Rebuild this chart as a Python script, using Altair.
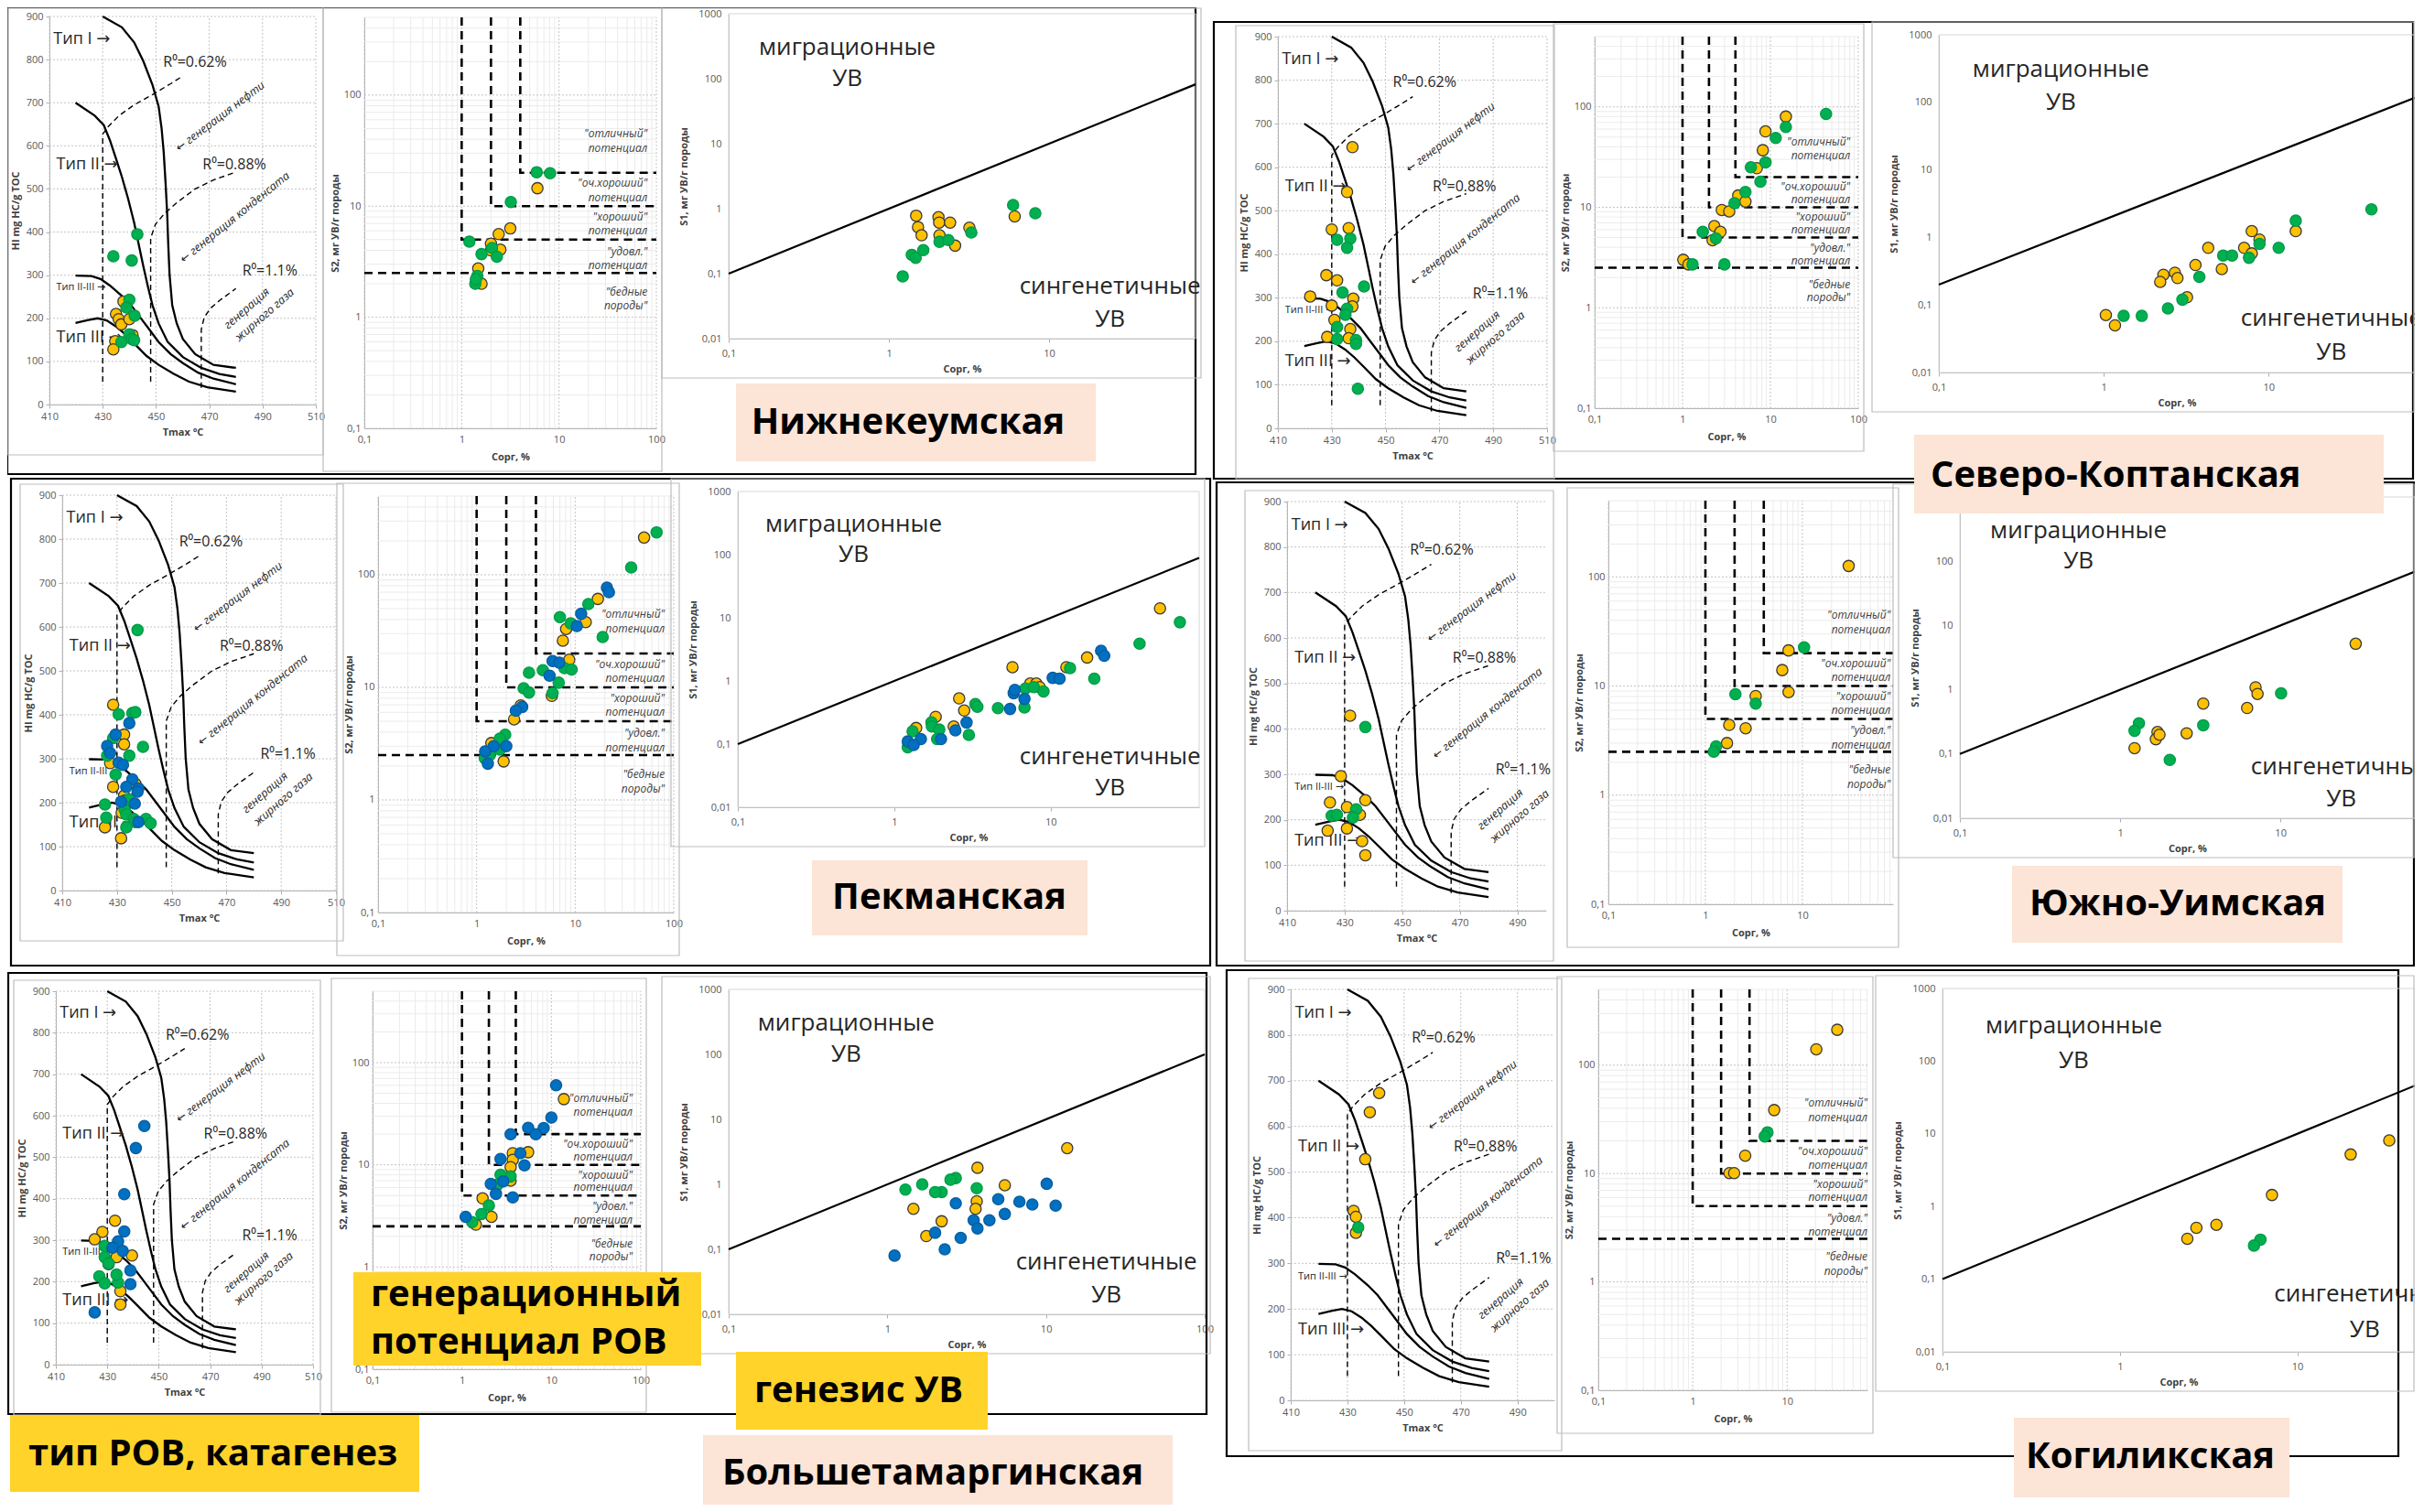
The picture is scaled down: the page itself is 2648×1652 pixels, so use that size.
import altair as alt
import pandas as pd

FONT = "Open Sans, DejaVu Sans, sans-serif"
YEL, GRN, BLU = "#FFC000", "#00B050", "#0070C0"
PEACH, GOLD = "#FCE4D6", "#FFD32A"
COLOR_CODES = ["y", "g", "b"]
FILLS = [YEL, GRN, BLU]
EDGES = ["#3a3a3a", "#009A46", "#0A5C9E"]

# ---------------- template lines of the HI - Tmax diagram ----------------
TYPE_I_T = [430, 437.2, 441.8, 445.2, 448.7, 451.0, 452.1, 452.9, 453.6, 454.2, 454.6, 455.1, 456.1, 457.8, 460.1, 464.7, 471.6, 480]
TYPE_I_HI = [900, 875, 840, 797, 741, 691, 641, 585, 514, 443, 372, 301, 230, 188, 152, 117, 92, 85]
TYPE_II_T = [419.8, 427, 430.4, 432.7, 435, 437.2, 439.5, 441.8, 443.5, 445.2, 447, 448.7, 451, 454.4, 460.1, 467, 473.8, 480]
TYPE_II_HI = [700, 670, 648, 613, 570, 528, 478, 422, 372, 322, 273, 230, 188, 145, 110, 85, 71, 64]
TYPE_II3_T = [419.8, 425.8, 429.2, 432.7, 437.2, 440.7, 444.1, 447.5, 451, 455.5, 460.1, 465.8, 471.6, 480]
TYPE_II3_HI = [299, 298, 291, 276, 252, 230, 202, 174, 145, 117, 96, 74, 60, 47]
TYPE_III_T = [419.8, 424.6, 428.1, 431.5, 435, 438.4, 441.8, 446.4, 451, 456.7, 462.4, 469.3, 480]
TYPE_III_HI = [189, 196, 200, 195, 181, 163, 142, 113, 92, 71, 53, 40, 30]
R062_T = [430, 430, 432.1, 436.1, 441.8, 448.7, 455.5, 460.1]
R062_HI = [53, 627, 645, 670, 695, 719, 744, 762]
R088_T = [448, 448, 449.8, 453.2, 457.8, 464.7, 471.6, 480]
R088_HI = [53, 386, 418, 443, 468, 500, 521, 539]
R11_T = [467, 467, 468.1, 470.4, 473.8, 480]
R11_HI = [39, 174, 202, 223, 241, 269]

HI_TYPE_TXT = ["Тип I →", "Тип II →", "Тип III →"]
HI_TYPE_T = [411.5, 412.6, 412.6]
HI_TYPE_HI = [847, 556, 154]
HI_SUB_TXT = ["Тип II-III →"]
HI_SUB_T = [412.6]
HI_SUB_HI = [271]
HI_R_TXT = ["R⁰=0.62%", "R⁰=0.88%", "R⁰=1.1%"]
HI_R_T = [452.7, 467.5, 482.4]
HI_R_HI = [794, 556, 310]
HI_ROT_TXT = ["← генерация нефти", "← генерация конденсата", "генерация", "жирного газа"]
HI_ROT_T = [474.1, 479.6, 484.1, 490.8]
HI_ROT_HI = [668, 434, 223, 208]
HI_ROT_ANG = [323, 321, 319, 319]

HI_XTICKS = [410, 430, 450, 470, 490, 510]
HI_YTICKS = [0, 100, 200, 300, 400, 500, 600, 700, 800, 900]

# ---------------- template of the S2 - Corg diagram ----------------
S2_DASH_ID = ["a", "a", "a", "b", "b", "b", "c", "c", "c", "d", "d"]
S2_DASH_X = [1, 1, 100, 2, 2, 100, 4, 4, 100, 0.1, 100]
S2_DASH_Y = [500, 5, 5, 500, 10, 10, 500, 20, 20, 2.5, 2.5]
S2_TXT = ['"отличный"', "потенциал", '"оч.хороший"', "потенциал", '"хороший"', "потенциал",
          '"удовл."', "потенциал", '"бедные', 'породы"']
S2_TXT_Y = [45, 33, 16, 12, 8, 6, 3.9, 2.9, 1.7, 1.26]
S2_TXT_X = [81, 81, 81, 81, 81, 81, 81, 81, 81, 81]
LOG_TICKS = [0.1, 0.2, 0.3, 0.4, 0.5, 0.6, 0.7, 0.8, 0.9, 1, 2, 3, 4, 5, 6, 7, 8, 9,
             10, 20, 30, 40, 50, 60, 70, 80, 90, 100, 200, 300, 400, 500]
LOG_MAJOR = [0.1, 1, 10, 100]
LOG_MINOR = [0.2, 0.3, 0.4, 0.5, 0.6, 0.7, 0.8, 0.9, 2, 3, 4, 5, 6, 7, 8, 9,
             20, 30, 40, 50, 60, 70, 80, 90, 200, 300, 400, 500]

# ---------------- template of the S1 - Corg diagram ----------------
S1_DIAG_X = [0.1, 1000]
S1_DIAG_Y = [0.1, 1000]
SK_S1_LINE_X = [0.1, 77]
SK_S1_LINE_Y = [0.2, 117]
S1_TXT = ["миграционные", "УВ", "сингенетичные", "УВ"]
S1_TXT_X = [0.55, 0.55, 24, 24]
S1_TXT_Y = [302, 100, 0.063, 0.02]
S1_XTICKS = [0.1, 1, 10, 100]
S1_YTICKS = [0.01, 0.1, 1, 10, 100, 1000]

# ---------------- Нижнекеумская ----------------
NK_HI_T = [437.8, 435.0, 436.0, 437.0, 440.0, 441.2, 434.7, 434.0, 443.0, 434.0, 440.9, 440.0, 438.9, 442.0, 440.0, 440.9, 441.8, 437.0]
NK_HI_V = [239, 210, 198, 186, 198, 161, 147, 128, 395, 344, 334, 243, 225, 206, 163, 152, 149, 145]
NK_HI_C = ["y", "y", "y", "y", "y", "y", "y", "y", "g", "g", "g", "g", "g", "g", "g", "g", "g", "g"]
NK_S2_X = [6.0, 3.16, 2.4, 2.0, 2.5, 2.0, 1.48, 1.6, 5.9, 8.1, 3.2, 1.2, 1.6, 2.05, 2.3, 1.45, 1.38, 1.4]
NK_S2_Y = [14.5, 6.3, 5.6, 4.6, 4.06, 4.0, 2.75, 2.0, 20.2, 19.8, 10.9, 4.8, 3.7, 4.2, 3.5, 2.35, 2.0, 2.2]
NK_S2_C = ["y", "y", "y", "y", "y", "y", "y", "y", "g", "g", "g", "g", "g", "g", "g", "g", "g", "g"]
NK_S1_X = [1.48, 1.52, 1.6, 2.04, 2.06, 2.07, 2.41, 2.59, 3.18, 6.1, 5.96, 8.2, 1.22, 1.39, 1.47, 1.64, 2.07, 2.35, 3.27]
NK_S1_Y = [0.78, 0.52, 0.39, 0.74, 0.61, 0.39, 0.61, 0.27, 0.51, 0.76, 1.14, 0.85, 0.091, 0.195, 0.175, 0.23, 0.31, 0.33, 0.43]
NK_S1_C = ["y", "y", "y", "y", "y", "y", "y", "y", "y", "y", "g", "g", "g", "g", "g", "g", "g", "g", "g"]

# ---------------- Пекманская ----------------
PK_HI_T = [428.6, 430.6, 435.6, 436.7, 434.5, 428.6, 429.5, 432.6, 432.6, 426.4, 427.5, 426.4, 434.5, 439.5, 430.6,
           432.2, 427.5, 429.5, 428.6, 435.6, 433.4, 436.7, 437.8, 437.5, 432.6, 434.5, 433.0, 431.5, 436.5, 425.6,
           433.0, 432.8, 431.7, 433.4, 426.1, 436.1, 436.7, 437.8, 440.6, 442.3, 425.6, 433.4, 431.5, 437.5]
PK_HI_V = [423, 401, 404, 406, 381, 347, 355, 355, 333, 329, 313, 307, 307, 327, 291, 286, 290, 264, 236, 253, 236,
           243, 232, 225, 216, 208, 205, 202, 198, 196, 191, 184, 177, 173, 166, 163, 156, 156, 163, 153, 144, 144, 119, 593]
PK_HI_C = ["y", "g", "g", "g", "b", "g", "b", "y", "y", "b", "b", "g", "g", "g", "b", "b", "y", "g", "y", "b", "b",
           "y", "b", "b", "y", "g", "y", "b", "b", "g", "g", "g", "y", "g", "g", "g", "g", "b", "g", "g", "y", "g", "y", "g"]
PK_S2_X = [67, 50, 37, 21, 22, 17, 13.6, 11.5, 12.8, 7.0, 9.0, 10.4, 8.1, 19, 7.5, 8.7, 5.9, 6.9, 7.8, 9.2, 4.7, 3.4,
           5.5, 6.8, 3.0, 3.4, 5.9, 5.8, 2.8, 2.9, 2.5, 2.4, 1.95, 1.72, 1.41, 1.49, 2.0, 1.72, 1.22, 1.21, 1.88, 1.30, 1.36]
PK_S2_Y = [238, 214, 116, 77, 70, 61, 55, 45, 38, 42, 37, 35, 33, 28, 26, 17.6, 17.1, 16.6, 14.8, 14.4, 14.2, 13.5,
           12.7, 11, 9.8, 9.0, 8.9, 8.4, 6.9, 6.7, 6.2, 5.2, 3.8, 3.5, 3.2, 3.0, 3.0, 2.8, 2.7, 2.35, 2.2, 2.1, 2.5]
PK_S2_C = ["g", "y", "g", "b", "b", "y", "g", "b", "y", "g", "g", "b", "y", "g", "y", "y", "b", "b", "g", "g", "g", "g",
           "b", "g", "g", "g", "g", "y", "y", "b", "b", "y", "g", "g", "y", "b", "b", "g", "b", "g", "y", "b", "g"]
PK_S1_X = [50, 67, 37, 21, 22, 17.1, 19, 12.6, 13.3, 10.3, 11.4, 5.7, 7.4, 8.1, 8.5, 6.9, 7.8, 9.0, 5.8, 5.9, 6.8, 5.5,
           4.6, 6.8, 3.3, 3.4, 2.6, 2.8, 2.9, 3.0, 1.84, 1.73, 1.74, 1.94, 2.4, 2.46, 1.88, 1.99, 1.38, 1.31, 1.48, 1.22, 1.33, 1.22]
PK_S1_Y = [14.1, 8.5, 3.9, 3.0, 2.5, 2.35, 1.09, 1.65, 1.6, 1.12, 1.09, 1.65, 0.91, 0.91, 0.8, 0.76, 0.8, 0.68, 0.64,
           0.72, 0.52, 0.36, 0.37, 0.38, 0.43, 0.39, 0.53, 0.34, 0.22, 0.14, 0.27, 0.22, 0.19, 0.17, 0.19, 0.165, 0.12,
           0.12, 0.18, 0.16, 0.12, 0.11, 0.097, 0.089]
PK_S1_C = ["y", "g", "g", "b", "b", "y", "g", "y", "g", "b", "b", "y", "y", "y", "y", "g", "g", "g", "b", "b", "b", "b",
           "g", "g", "g", "g", "y", "y", "b", "g", "y", "g", "g", "g", "y", "b", "g", "b", "y", "g", "b", "b", "b", "g"]

# ---------------- Большетамаргинская ----------------
BT_HI_T = [444.4, 441.1, 436.6, 433.0, 436.6, 428.1, 425.1, 434.2, 429.0, 432.0, 436.0, 429.0, 433.6, 439.6, 430.5,
           430.5, 439.0, 426.9, 429.0, 434.2, 439.0, 435.1, 435.1, 425.1, 433.6]
BT_HI_V = [575, 522, 411, 347, 321, 320, 302, 297, 286, 282, 274, 259, 259, 263, 244, 242, 227, 213, 196, 198, 194,
           177, 145, 126, 217]
BT_HI_C = ["b", "b", "b", "y", "b", "y", "y", "b", "g", "b", "b", "g", "y", "y", "g", "y", "b", "g", "g", "g", "b",
           "y", "y", "b", "g"]
BT_S2_X = [11.3, 13.8, 10, 5.5, 8.2, 6.7, 3.5, 5.5, 4.5, 3.7, 2.7, 3.7, 5.0, 3.5, 3.5, 3.5, 2.7, 2.9, 2.1, 2.5, 2.4,
           3.7, 1.7, 2.0, 1.65, 2.14, 1.1, 1.3, 1.43]
BT_S2_Y = [60, 44, 29, 23, 22.9, 19.9, 19.9, 13.3, 13, 13, 11.4, 11.2, 9.9, 9.5, 7.0, 7.7, 8.0, 6.9, 6.5, 6.4, 5.2,
           4.8, 4.7, 4.0, 3.3, 3.1, 3.1, 2.75, 2.6]
BT_S2_C = ["b", "y", "b", "b", "b", "b", "b", "y", "b", "y", "b", "y", "b", "y", "y", "g", "g", "b", "b", "g", "b",
           "b", "y", "g", "g", "y", "b", "g", "y"]
BT_S1_X = [13.6, 3.7, 5.5, 10.1, 11.5, 8.2, 6.8, 5.0, 3.66, 3.66, 3.6, 5.5, 4.4, 3.5, 3.7, 2.7, 2.7, 2.5, 2.2, 2.0,
           1.66, 1.3, 1.46, 2.2, 2.0, 1.76, 2.9, 2.3, 1.11]
BT_S1_Y = [3.6, 1.8, 0.97, 1.02, 0.47, 0.49, 0.54, 0.59, 0.87, 0.55, 0.42, 0.35, 0.28, 0.28, 0.21, 0.51, 1.25, 1.18,
           0.76, 0.76, 1.0, 0.83, 0.42, 0.27, 0.18, 0.16, 0.15, 0.10, 0.08]
BT_S1_C = ["y", "y", "y", "b", "b", "b", "b", "b", "g", "y", "y", "b", "b", "b", "b", "b", "g", "g", "g", "g", "g",
           "g", "y", "y", "b", "y", "b", "b", "b"]

# ---------------- Северо-Коптанская ----------------
SK_HI_T = [437.7, 435.7, 430.0, 436.3, 432.0, 436.9, 435.7, 428.0, 432.0, 442.0, 434.0, 422.0, 438.0, 437.7, 430.0,
           435.7, 435.1, 431.0, 432.0, 436.9, 428.3, 432.0, 436.3, 439.0, 439.0, 439.7]
SK_HI_V = [646, 543, 457, 460, 433, 436, 415, 352, 340, 326, 312, 303, 298, 280, 282, 275, 261, 249, 233, 228, 210,
           205, 207, 203, 194, 91]
SK_HI_C = ["y", "y", "y", "y", "g", "g", "g", "y", "y", "g", "g", "y", "y", "y", "y", "g", "g", "y", "g", "y", "y",
           "g", "y", "g", "g", "g"]
SK_S2_X = [43, 15, 15, 8.8, 11.5, 8.2, 8.8, 7.0, 6.0, 7.7, 5.2, 4.3, 5.2, 3.9, 2.8, 3.4, 2.3, 2.7, 1.7, 2.2, 2.4,
           1.02, 1.17, 1.3, 3.0]
SK_S2_Y = [85, 80, 63, 57, 49, 37, 28, 24.5, 25, 18, 14.2, 13.1, 11.4, 11, 9.4, 9.1, 6.5, 5.7, 5.7, 4.7, 4.9, 3.0,
           2.7, 2.7, 2.7]
SK_S2_C = ["g", "y", "g", "y", "g", "y", "g", "y", "g", "g", "g", "y", "y", "g", "y", "y", "y", "y", "g", "y", "g",
           "y", "y", "g", "g"]
SK_S1_X = [42, 14.6, 14.6, 7.9, 8.8, 8.8, 11.5, 7.1, 7.9, 7.6, 4.3, 5.3, 6.0, 3.6, 5.2, 3.8, 2.3, 2.7, 2.8, 2.2, 3.2,
           3.0, 2.45, 1.03, 1.17, 1.32, 1.7]
SK_S1_Y = [2.6, 1.77, 1.24, 1.24, 0.93, 0.8, 0.70, 0.70, 0.58, 0.50, 0.70, 0.54, 0.54, 0.39, 0.34, 0.26, 0.28, 0.30,
           0.25, 0.22, 0.13, 0.12, 0.089, 0.071, 0.05, 0.069, 0.069]
SK_S1_C = ["g", "g", "y", "y", "y", "g", "g", "y", "y", "g", "y", "g", "g", "y", "y", "g", "y", "y", "y", "y", "y",
           "g", "g", "y", "y", "g", "g"]

# ---------------- Южно-Уимская ----------------
UU_HI_T = [431.9, 437.2, 428.7, 424.9, 437.2, 430.8, 434.0, 435.3, 425.5, 427.3, 432.9, 424.1, 430.8, 436.1, 437.2]
UU_HI_V = [429, 404, 296, 238, 243, 228, 223, 211, 209, 211, 205, 176, 181, 153, 122]
UU_HI_C = ["y", "g", "y", "y", "y", "y", "g", "y", "g", "g", "g", "y", "y", "y", "y"]
UU_S2_X = [30, 10.4, 7.2, 6.2, 7.2, 2.04, 3.3, 3.3, 1.76, 2.6, 1.67, 1.29, 1.22]
UU_S2_Y = [126, 22.6, 21.2, 14, 8.8, 8.4, 8.1, 6.9, 4.4, 4.1, 3.0, 2.8, 2.5]
UU_S2_C = ["y", "g", "y", "y", "y", "g", "y", "g", "y", "y", "y", "g", "g"]
UU_S1_X = [29.5, 7.0, 7.2, 10.1, 3.3, 6.2, 3.3, 2.6, 1.71, 1.67, 1.76, 1.31, 1.23, 1.23, 2.04]
UU_S1_Y = [5.2, 1.09, 0.86, 0.88, 0.61, 0.52, 0.28, 0.21, 0.22, 0.17, 0.2, 0.30, 0.23, 0.123, 0.081]
UU_S1_C = ["y", "y", "y", "g", "y", "y", "g", "y", "y", "y", "y", "g", "g", "y", "g"]

# ---------------- Когиликская ----------------
KG_HI_T = [441.2, 437.9, 436.3, 432.2, 433.0, 433.8, 433.0]
KG_HI_V = [673, 631, 528, 415, 402, 379, 367]
KG_HI_C = ["y", "y", "y", "y", "y", "g", "y"]
KG_S2_X = [34, 20.4, 7.3, 6.2, 5.8, 3.6, 2.45, 2.75]
KG_S2_Y = [212, 140, 38.5, 24, 22, 14.6, 10.1, 10.1]
KG_S2_C = ["y", "y", "y", "g", "g", "y", "y", "y"]
KG_S1_X = [33, 20, 7.2, 3.5, 2.7, 2.4, 6.2, 5.7]
KG_S1_Y = [8.1, 5.2, 1.44, 0.56, 0.51, 0.36, 0.35, 0.29]
KG_S1_C = ["y", "y", "y", "y", "y", "y", "g", "g"]

DATA = {
    "NK": ((NK_HI_T, NK_HI_V, NK_HI_C), (NK_S2_X, NK_S2_Y, NK_S2_C), (NK_S1_X, NK_S1_Y, NK_S1_C)),
    "PK": ((PK_HI_T, PK_HI_V, PK_HI_C), (PK_S2_X, PK_S2_Y, PK_S2_C), (PK_S1_X, PK_S1_Y, PK_S1_C)),
    "BT": ((BT_HI_T, BT_HI_V, BT_HI_C), (BT_S2_X, BT_S2_Y, BT_S2_C), (BT_S1_X, BT_S1_Y, BT_S1_C)),
    "SK": ((SK_HI_T, SK_HI_V, SK_HI_C), (SK_S2_X, SK_S2_Y, SK_S2_C), (SK_S1_X, SK_S1_Y, SK_S1_C)),
    "UU": ((UU_HI_T, UU_HI_V, UU_HI_C), (UU_S2_X, UU_S2_Y, UU_S2_C), (UU_S1_X, UU_S1_Y, UU_S1_C)),
    "KG": ((KG_HI_T, KG_HI_V, KG_HI_C), (KG_S2_X, KG_S2_Y, KG_S2_C), (KG_S1_X, KG_S1_Y, KG_S1_C)),
}

# ---------------- layout: page position of each plot area (x, y, w, h, x-domain end) ----------------
LAYOUT = {
    "NK": {"hi": (54, 18, 291, 424, 510), "s2": (398, 19, 319, 449, 100), "s1": (796, 15, 510, 355, 82)},
    "PK": {"hi": (68, 541, 299, 432, 510), "s2": (413, 542, 323, 455, 100), "s1": (806, 537, 504, 345, 89)},
    "BT": {"hi": (61, 1083, 281, 408, 510), "s2": (407, 1083, 293, 413, 100), "s1": (796, 1081, 520, 355, 100)},
    "SK": {"hi": (1396, 40, 294, 428, 510), "s2": (1742, 40, 288, 406, 100), "s1": (2118, 38, 520, 369, 77)},
    "UU": {"hi": (1406, 548, 283, 447, 500), "s2": (1757, 547, 311, 441, 86), "s1": (2141, 543, 497, 351, 69)},
    "KG": {"hi": (1410, 1081, 288, 449, 503), "s2": (1746, 1081, 294, 438, 71), "s1": (2122, 1080, 516, 397, 46)},
}
ORDER = ["NK", "SK", "PK", "UU", "BT", "KG"]
RIGHT = {"SK", "UU", "KG"}

FRAMES = {"NK": (8, 8, 1306, 518), "PK": (12, 523, 1322, 1055), "BT": (9, 1063, 1318, 1545),
          "SK": (1326, 24, 2636, 523), "UU": (1329, 527, 2637, 1055), "KG": (1340, 1060, 2620, 1591)}

LABELS = [
    ("Нижнекеумская", (804, 419, 1197, 504), 992, 462, "center", PEACH),
    ("Пекманская", (887, 940, 1188, 1022), 1037, 981, "center", PEACH),
    ("Северо-Коптанская", (2091, 475, 2604, 561), 2109, 520, "left", PEACH),
    ("Южно-Уимская", (2198, 946, 2559, 1030), 2379, 988, "center", PEACH),
    ("Когиликская", (2200, 1549, 2501, 1636), 2349, 1592, "center", PEACH),
    ("Большетамаргинская", (768, 1568, 1281, 1644), 789, 1610, "left", PEACH),
    ("генезис УВ", (804, 1477, 1079, 1562), 824, 1520, "left", GOLD),
    ("генерационный", (386, 1390, 766, 1492), 405, 1415, "left", GOLD),
    ("потенциал РОВ", None, 405, 1467, "left", GOLD),
    ("тип РОВ, катагенез", (11, 1546, 458, 1630), 31, 1589, "left", GOLD),
]

OFF = 8            # page margin: view coordinate = page coordinate - OFF
W, H = 2630, 1636  # whole drawing

LOG_LABELS = ("datum.value == 0.01 ? '0,01' : datum.value == 0.1 ? '0,1' : "
              "(datum.value == 1 || datum.value == 10 || datum.value == 100 || datum.value == 1000) "
              "? format(datum.value, 'd') : ''")
ONE = alt.Data(values=[{"k": 0}])


def line_frame(parts):
    rows = []
    for name, xs, ys in parts:
        for i, (a, b) in enumerate(zip(xs, ys)):
            rows.append({"id": name, "o": i, "x": a, "y": b})
    return pd.DataFrame(rows)


CURVES_DF = line_frame([("I", TYPE_I_T, TYPE_I_HI), ("II", TYPE_II_T, TYPE_II_HI),
                        ("II-III", TYPE_II3_T, TYPE_II3_HI), ("III", TYPE_III_T, TYPE_III_HI)])
RO_DF = line_frame([("0.62", R062_T, R062_HI), ("0.88", R088_T, R088_HI), ("1.1", R11_T, R11_HI)])
S2_DF = pd.DataFrame({"id": S2_DASH_ID, "x": S2_DASH_X, "y": S2_DASH_Y, "o": list(range(len(S2_DASH_X)))})


def clamp_rect(r):
    x1, y1, x2, y2 = r
    return (max(x1, 9), max(y1, 9), min(x2, 2637), min(y2, 1643))


def prect(r, fill=None, stroke=None, sw=1.0):
    """rectangle given in page pixels"""
    x1, y1, x2, y2 = r
    props = {}
    if fill is not None:
        props["fill"] = fill
    else:
        props["fillOpacity"] = 0
    if stroke is not None:
        props["stroke"] = stroke
        props["strokeWidth"] = sw
    return alt.Chart(ONE).mark_rect(**props).encode(
        x=alt.value(x1 - OFF), x2=alt.value(x2 - OFF), y=alt.value(y1 - OFF), y2=alt.value(y2 - OFF))


def ptext(txt, x, y, size, align):
    return alt.Chart(ONE).mark_text(text=txt, font=FONT, fontSize=size, fontWeight="bold", align=align,
                                    baseline="middle", color="black").encode(
        x=alt.value(x - OFF), y=alt.value(y - OFF))


def text_layer(txts, xs, ys, X, Y, size, style="normal", align="left", angles=None, color="#262626"):
    df = pd.DataFrame({"x": xs, "y": ys, "t": txts})
    enc = dict(x=X("x:Q"), y=Y("y:Q"), text="t:N")
    if angles is not None:
        df["a"] = angles
        enc["angle"] = alt.Angle("a:Q", scale=None)
    return alt.Chart(df).mark_text(font=FONT, fontSize=size, fontStyle=style, align=align, baseline="middle",
                                   color=color).encode(**enc)


def points_layer(xs, ys, cs, X, Y):
    df = pd.DataFrame({"x": xs, "y": ys, "c": cs})
    df["r"] = df["c"].map({"y": 0, "g": 1, "b": 2})
    df = df.sort_values("r", kind="stable")
    return alt.Chart(df).mark_point(filled=True, shape="circle", size=150, opacity=1, strokeWidth=1.3).encode(
        x=X("x:Q"), y=Y("y:Q"),
        fill=alt.Fill("c:N", scale=alt.Scale(domain=COLOR_CODES, range=FILLS), legend=None),
        stroke=alt.Stroke("c:N", scale=alt.Scale(domain=COLOR_CODES, range=EDGES), legend=None))


def rules(vals, a, b, X, Y, color, dash, vertical=True):
    df = pd.DataFrame({"v": vals, "a": [a] * len(vals), "b": [b] * len(vals)})
    if vertical:
        enc = dict(x=X("v:Q"), y=Y("a:Q"), y2="b:Q")
    else:
        enc = dict(y=Y("v:Q"), x=X("a:Q"), x2="b:Q")
    props = dict(color=color, strokeWidth=1)
    if dash:
        props["strokeDash"] = dash
    return alt.Chart(df).mark_rule(**props).encode(**enc)


def hi_panel(key):
    x0, y0, w, h, xmax = LAYOUT[key]["hi"]
    T, V, C = DATA[key][0]
    L, TOP = x0 - OFF, y0 - OFF
    xsc = alt.Scale(domain=[410, xmax], range=[L, L + w], nice=False, zero=False)
    ysc = alt.Scale(domain=[0, 900], range=[TOP + h, TOP], nice=False, zero=False)
    xt = [v for v in HI_XTICKS if v <= xmax]
    ax = alt.Axis(orient="bottom", offset=TOP + h - H, values=xt, format="d", title="Tmax °C", grid=False,
                  tickSize=4, labelPadding=3, titlePadding=6, labelFlush=False, labelOverlap=False)
    ay = alt.Axis(orient="left", offset=-L, values=HI_YTICKS, format="d", title="HI mg HC/g TOC", grid=False,
                  tickSize=4, labelPadding=3, titlePadding=6, labelOverlap=False)

    def X(f):
        return alt.X(f, scale=xsc, axis=ax)

    def Y(f):
        return alt.Y(f, scale=ysc, axis=ay)

    layers = [
        rules(xt, 0, 900, X, Y, "#c4c4c4", [2, 2], True),
        rules(HI_YTICKS, 410, xmax, X, Y, "#c4c4c4", [2, 2], False),
        alt.Chart(CURVES_DF).mark_line(color="black", strokeWidth=2.3).encode(
            x=X("x:Q"), y=Y("y:Q"), detail="id:N", order="o:Q"),
        alt.Chart(RO_DF).mark_line(color="black", strokeWidth=1.4, strokeDash=[6, 4]).encode(
            x=X("x:Q"), y=Y("y:Q"), detail="id:N", order="o:Q"),
        text_layer(HI_TYPE_TXT, HI_TYPE_T, HI_TYPE_HI, X, Y, 18),
        text_layer(HI_SUB_TXT, HI_SUB_T, HI_SUB_HI, X, Y, 11),
        text_layer(HI_R_TXT, HI_R_T, HI_R_HI, X, Y, 16),
        text_layer(HI_ROT_TXT, HI_ROT_T, HI_ROT_HI, X, Y, 12.5, style="italic", align="center",
                   angles=HI_ROT_ANG),
        points_layer(T, V, C, X, Y),
        prect(clamp_rect((x0 - 46, y0 - 12, x0 + w + 8, y0 + h + 55)), stroke="#bdbdbd", sw=1.2),
    ]
    return alt.layer(*layers)


def s2_panel(key):
    x0, y0, w, h, xmax = LAYOUT[key]["s2"]
    Xd, Yd, C = DATA[key][1]
    L, TOP = x0 - OFF, y0 - OFF
    xsc = alt.Scale(type="log", domain=[0.1, xmax], range=[L, L + w], nice=False, clamp=True)
    ysc = alt.Scale(type="log", domain=[0.1, 500], range=[TOP + h, TOP], nice=False)
    xt = [v for v in LOG_TICKS if v <= xmax * 1.001]
    ax = alt.Axis(orient="bottom", offset=TOP + h - H, values=xt, labelExpr=LOG_LABELS, title="Сорг, %",
                  grid=False, ticks=False, labelPadding=6, titlePadding=8, labelFlush=False, labelOverlap=False)
    ay = alt.Axis(orient="left", offset=-L, values=LOG_TICKS, labelExpr=LOG_LABELS, title="S2, мг УВ/г породы",
                  grid=False, ticks=False, labelPadding=4, titlePadding=4, labelOverlap=False)

    def X(f):
        return alt.X(f, scale=xsc, axis=ax)

    def Y(f):
        return alt.Y(f, scale=ysc, axis=ay)

    xmin_t = [v for v in LOG_MINOR if v <= xmax * 1.001]
    xmaj_t = [v for v in LOG_MAJOR if v <= xmax * 1.001]
    layers = [
        rules(xmin_t, 0.1, 500, X, Y, "#ebebeb", None, True),
        rules(LOG_MINOR, 0.1, xmax, X, Y, "#ebebeb", None, False),
        rules(xmaj_t, 0.1, 500, X, Y, "#c4c4c4", [2, 2], True),
        rules(LOG_MAJOR, 0.1, xmax, X, Y, "#c4c4c4", [2, 2], False),
        alt.Chart(S2_DF).mark_line(color="black", strokeWidth=2.6, strokeDash=[9, 6]).encode(
            x=X("x:Q"), y=Y("y:Q"), detail="id:N", order="o:Q"),
        text_layer(S2_TXT, S2_TXT_X, S2_TXT_Y, X, Y, 12, style="italic", align="right", color="#404040"),
        points_layer(Xd, Yd, C, X, Y),
        prect(clamp_rect((x0 - 45, y0 - 14, x0 + w + 6, y0 + h + 47)), stroke="#bdbdbd", sw=1.2),
    ]
    return alt.layer(*layers)


def s1_panel(key):
    x0, y0, w, h, xmax = LAYOUT[key]["s1"]
    Xd, Yd, C = DATA[key][2]
    L, TOP = x0 - OFF, y0 - OFF
    xsc = alt.Scale(type="log", domain=[0.1, xmax], range=[L, L + w], nice=False)
    ysc = alt.Scale(type="log", domain=[0.01, 1000], range=[TOP + h, TOP], nice=False)
    xt = [v for v in S1_XTICKS if v <= xmax * 1.001]
    ax = alt.Axis(orient="bottom", offset=TOP + h - H, values=xt, labelExpr=LOG_LABELS, title="Сорг, %",
                  grid=False, tickSize=4, labelPadding=6, titlePadding=6, labelFlush=False, labelOverlap=False)
    ay = alt.Axis(orient="left", offset=-L, values=S1_YTICKS, labelExpr=LOG_LABELS, title="S1, мг УВ/г породы",
                  grid=False, ticks=False, labelPadding=8, titlePadding=10, labelOverlap=False)

    def X(f):
        return alt.X(f, scale=xsc, axis=ax)

    def Y(f):
        return alt.Y(f, scale=ysc, axis=ay)

    if key == "SK":
        diag = pd.DataFrame({"x": SK_S1_LINE_X, "y": SK_S1_LINE_Y})
    else:
        end = min(S1_DIAG_X[1], xmax)
        diag = pd.DataFrame({"x": [S1_DIAG_X[0], end], "y": [S1_DIAG_Y[0], end]})
    right_off = 0 if key in RIGHT else 6
    layers = [
        prect((x0, y0, x0 + w, y0 + h), stroke="#d6d6d6", sw=1),
        alt.Chart(diag).mark_line(color="black", strokeWidth=2.2).encode(x=X("x:Q"), y=Y("y:Q")),
        text_layer(S1_TXT, S1_TXT_X, S1_TXT_Y, X, Y, 26, align="center"),
        points_layer(Xd, Yd, C, X, Y),
        prect(clamp_rect((x0 - 73, y0 - 14, x0 + w + right_off, y0 + h + 43)), stroke="#bdbdbd", sw=1.2),
    ]
    return alt.layer(*layers)


layers = []
for key in ORDER:
    layers.append(prect(FRAMES[key], stroke="black", sw=2.2))
for key in ORDER:
    layers += [hi_panel(key), s2_panel(key), s1_panel(key)]
for txt, box, tx, ty, align, fill in LABELS:
    if box is not None:
        layers.append(prect(box, fill=fill))
for txt, box, tx, ty, align, fill in LABELS:
    layers.append(ptext(txt, tx, ty, 40, align))

chart = alt.layer(*layers).resolve_scale(x="independent", y="independent").resolve_axis(
    x="independent", y="independent"
).properties(
    width=W, height=H, padding=0, autosize=alt.AutoSizeParams(type="none"), background="white"
).configure_view(stroke="transparent").configure_axis(
    labelFont=FONT, labelFontSize=11, labelColor="#595959", titleFont=FONT, titleFontSize=11,
    titleFontWeight="bold", titleColor="#404040", domainColor="#b0b0b0", tickColor="#b0b0b0",
)

chart.save("out.html", embed_options={"renderer": "svg", "actions": False})
